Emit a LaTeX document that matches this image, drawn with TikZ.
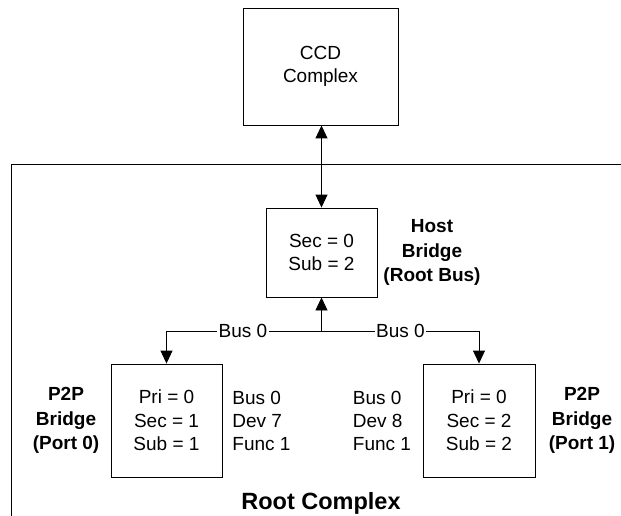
\documentclass[tikz,border=0pt]{standalone}
\usepackage{fontspec}
\setmainfont{Liberation Sans}
\usetikzlibrary{arrows.meta}
\begin{document}
\begin{tikzpicture}[x=1pt,y=-1pt,
  line width=0.9pt,
  txt/.style={font=\fontsize{19}{23.5}\selectfont, align=center, inner sep=0pt},
  lefttxt/.style={font=\fontsize{19}{23}\selectfont, align=left, inner sep=0pt, anchor=west},
  boldtxt/.style={font=\fontsize{19}{24.5}\selectfont\bfseries, align=center, inner sep=0pt},
  titletxt/.style={font=\fontsize{23.5}{28}\selectfont\bfseries, inner sep=0pt},
  boxnode/.style={draw, txt},
  arr/.style={-{Triangle[length=13pt,width=12pt]}},
  darr/.style={{Triangle[length=13pt,width=12pt]}-{Triangle[length=13pt,width=12pt]}},
  buslabel/.style={txt, fill=white, inner xsep=1.5pt, inner ysep=1pt}]
\useasboundingbox (0,0) rectangle (621,516);

% frame of the root complex
\draw (621,164) -- (11,164) -- (11,516);

% boxes
\node[boxnode, minimum width=155pt, minimum height=117pt] (ccd) at (320.5,66.5) {CCD\\Complex};
\node[boxnode, minimum width=111pt, minimum height=89pt] (host) at (321.5,252.5) {Sec = 0\\Sub = 2};
\node[boxnode, minimum width=111pt, minimum height=113pt] (p2pa) at (166.5,420.5) {Pri = 0\\Sec = 1\\Sub = 1};
\node[boxnode, minimum width=112pt, minimum height=113pt] (p2pb) at (479,420.5) {Pri = 0\\Sec = 2\\Sub = 2};

% side labels
\node[boldtxt] (hostlbl) at (432,252.5) {Host\\Bridge\\(Root Bus)};
\node[boldtxt] (p2palbl) at (66,420.5) {P2P\\Bridge\\(Port 0)};
\node[boldtxt] (p2pblbl) at (582,420.5) {P2P\\Bridge\\(Port 1)};
\node[lefttxt] (bdfa) at (232,420.5) {Bus 0\\Dev 7\\Func 1};
\node[lefttxt] (bdfb) at (352.5,420.5) {Bus 0\\Dev 8\\Func 1};
\node[titletxt] (rootlbl) at (321,503) {Root Complex};

% connectors
\draw[darr] (ccd.south -| host.north) -- (host.north);
\coordinate (busmid) at (host.south |- 0,331);
\draw[arr] (busmid) -- (host.south);
\draw[arr] (busmid) -| (p2pa.north);
\draw[arr] (busmid) -| (p2pb.north);
\node[buslabel] (busa) at (243,331) {Bus 0};
\node[buslabel] (busb) at (400.5,331) {Bus 0};
\end{tikzpicture}
\end{document}
